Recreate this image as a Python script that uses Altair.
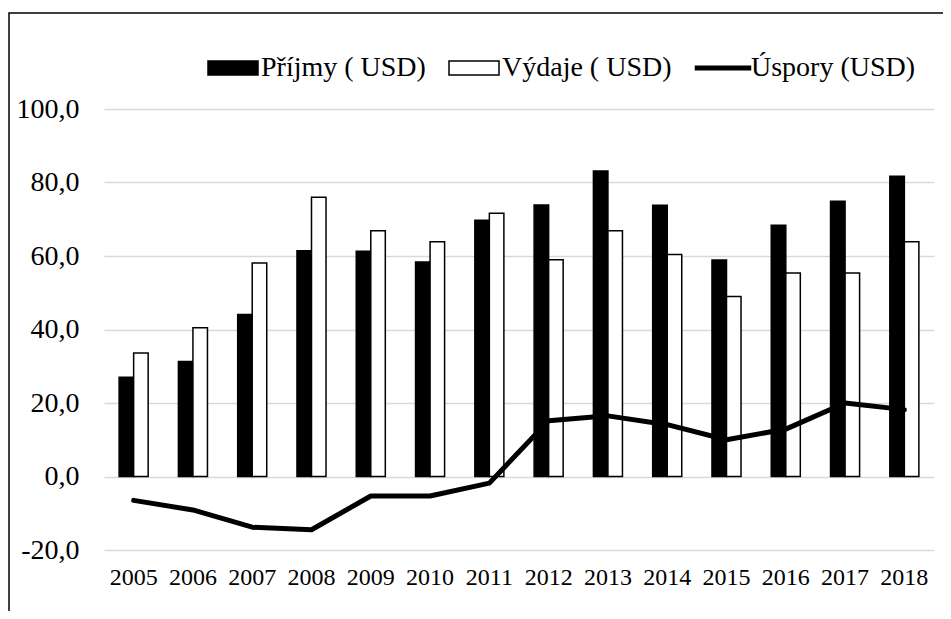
import altair as alt
import pandas as pd

years = [str(y) for y in range(2005, 2019)]
prijmy = [27.0, 31.3, 44.1, 61.4, 61.3, 58.4, 69.7, 73.9, 83.1, 73.8, 58.9, 68.4, 74.9, 81.7]
vydaje = [33.6, 40.5, 58.1, 76.0, 66.9, 63.9, 71.6, 59.0, 66.9, 60.4, 49.0, 55.4, 55.4, 63.9]
uspory = [-6.5, -9.1, -13.8, -14.5, -5.3, -5.3, -1.8, 15.2, 16.5, 14.1, 10.0, 12.9, 20.0, 18.2]

S_P = "Příjmy ( USD)"
S_V = "Výdaje ( USD)"
S_U = "Úspory (USD)"
series_names = [S_P, S_V, S_U]
y_ticks = [-20, 0, 20, 40, 60, 80, 100]

FONT = "Liberation Serif"

bars_df = pd.DataFrame(
    {"year": years * 2,
     "series": [S_P] * len(years) + [S_V] * len(years),
     "value": prijmy + vydaje}
)
line_df = pd.DataFrame({"year": years, "value": uspory, "series": [S_U] * len(years)})
legend_df = pd.DataFrame({"year": [years[0]] * 3, "value": [0, 0, 0], "series": series_names})

fill_scale = alt.Scale(domain=series_names, range=["black", "white", "black"])
rect_path = "M-1,-0.28H1V0.28H-1Z"
line_path = "M-1.1,-0.07H1.1V0.07H-1.1Z"
shape_scale = alt.Scale(domain=series_names, range=[rect_path, rect_path, line_path])

x_enc = alt.X(
    "year:N",
    sort=years,
    scale=alt.Scale(paddingInner=0.51, paddingOuter=0.255),
    axis=alt.Axis(title=None, domain=False, ticks=False, grid=False, labelAngle=0,
                  labelFont=FONT, labelFontSize=24, labelColor="black", labelPadding=15),
)
y_enc = alt.Y(
    "value:Q",
    scale=alt.Scale(domain=[-20, 100], nice=False, zero=False),
    axis=alt.Axis(title=None, domain=False, ticks=False, values=y_ticks,
                  labelExpr="datum.value + ',0'", labelFont=FONT, labelFontSize=28,
                  labelColor="black", labelPadding=25, gridColor="#d9d9d9", gridWidth=1.5),
)

frame = alt.Chart(pd.DataFrame({"a": [0]})).mark_rect(
    fill="transparent", stroke="black", strokeWidth=1.5
).encode(x=alt.value(-95), x2=alt.value(900), y=alt.value(-96), y2=alt.value(700))

bars = alt.Chart(bars_df).mark_bar(stroke="black", strokeWidth=1.5).encode(
    x=x_enc,
    xOffset=alt.XOffset("series:N", scale=alt.Scale(domain=[S_P, S_V])),
    y=y_enc,
    fill=alt.Fill("series:N", scale=fill_scale),
)

line = alt.Chart(line_df).mark_line(
    color="black", strokeWidth=5, strokeJoin="round", strokeCap="round"
).encode(x=alt.X("year:N", sort=years), y="value:Q")

leg = alt.Legend(
    orient="none", legendX=103, legendY=-67, direction="horizontal", columns=3,
    title=None, labelFont=FONT, labelFontSize=28, labelColor="black", labelOffset=2,
    columnPadding=20, padding=0, symbolSize=2500, symbolStrokeColor="black",
    symbolStrokeWidth=1.5, symbolOpacity=1, labelLimit=400,
)
legend_layer = alt.Chart(legend_df).transform_filter("datum.value > 1000").mark_point(
    filled=True, stroke="black", strokeWidth=1.5
).encode(
    x=alt.X("year:N", sort=years),
    y="value:Q",
    fill=alt.Fill("series:N", scale=fill_scale, legend=leg),
    shape=alt.Shape("series:N", scale=shape_scale, legend=leg),
)

chart = alt.layer(frame, bars, line, legend_layer).properties(
    width=830, height=441,
    autosize=alt.AutoSizeParams(type="none"),
    padding={"left": 96, "top": 101, "right": 9, "bottom": 61},
).configure(background="white", font=FONT).configure_view(
    strokeWidth=0
).configure_legend(labelFont=FONT, labelFontSize=28, labelColor="black").configure_axis(
    labelFont=FONT, labelColor="black"
)

chart.save("out.html", embed_options={"renderer": "svg", "actions": False})
